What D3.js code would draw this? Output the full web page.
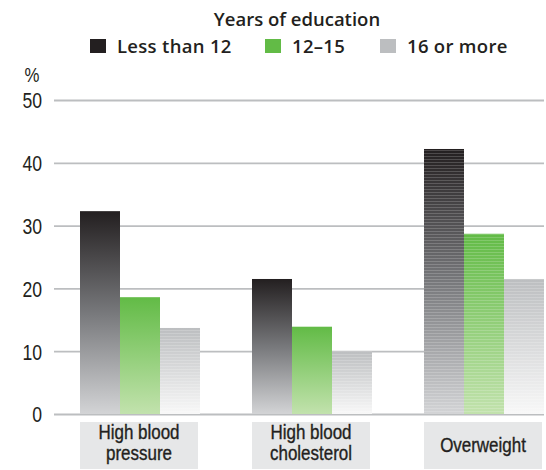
<!DOCTYPE html>
<html>
<head>
<meta charset="utf-8">
<script src="https://cdn.jsdelivr.net/npm/d3@7"></script>
<style>
  html, body { margin: 0; padding: 0; background: #fff; }
  svg { display: block; }
</style>
</head>
<body>
<svg id="chart" width="546" height="470"></svg>
<script>
// Share of adults with each risk factor, by years of education
const categories = [["High blood", "pressure"], ["High blood", "cholesterol"], ["Overweight"]];
const seriesNames = ["Less than 12", "12\u201315", "16 or more"];
const lessThan12 = [32.3, 21.5, 42.2];
const years12to15 = [18.6, 13.9, 28.7];
const sixteenPlus = [13.7, 10.0, 21.5];
const yTicks = [0, 10, 20, 30, 40, 50];

const series = [lessThan12, years12to15, sixteenPlus];
const swatch = ["#231f20", "#62bb46", "#bcbec0"];
const gradStops = [
  [["0%", "#231f20"], ["50%", "#77787b"], ["100%", "#d3d4d6"]],
  [["0%", "#62bb46"], ["100%", "#c2e2ad"]],
  [["0%", "#bcbec0"], ["100%", "#f8f8f8"]]
];

const svg = d3.select("#chart");
const plotLeft = 54, plotRight = 544;
const labelFont = "'Liberation Sans', Arial, sans-serif";
const legendFont = "'Open Sans', 'Liberation Sans', sans-serif";
const ink = "#231f20";
const narrow = 0.8;      // horizontal squeeze for the condensed labels

const defs = svg.append("defs");
gradStops.forEach((stops, i) => {
  const g = defs.append("linearGradient")
    .attr("id", "grad" + i)
    .attr("x1", 0).attr("y1", 0).attr("x2", 0).attr("y2", 1);
  stops.forEach(s => g.append("stop").attr("offset", s[0]).attr("stop-color", s[1]));
});
// fine horizontal banding over the bars
const pat = defs.append("pattern")
  .attr("id", "bands").attr("patternUnits", "userSpaceOnUse")
  .attr("width", 4).attr("height", 3);
pat.append("rect").attr("width", 4).attr("height", 1).attr("fill", "#fff").attr("opacity", 0.18);

const y = d3.scaleLinear().domain([0, 50]).range([414, 100]);
const x0 = d3.scaleBand()
  .domain(d3.range(categories.length))
  .range([80, 544])
  .paddingInner(52 / 172)
  .paddingOuter(0);
const x1 = d3.scaleBand()
  .domain(d3.range(series.length))
  .range([0, x0.bandwidth()]);

// gridlines and tick labels
const yAxis = d3.axisLeft(y).tickValues(yTicks).tickSize(-(plotRight - plotLeft)).tickPadding(15);
const ax = svg.append("g").attr("transform", `translate(${plotLeft},0)`).call(yAxis);
ax.select(".domain").remove();
ax.selectAll(".tick line").attr("stroke", "#bcbec0").attr("stroke-width", 1.8);
ax.selectAll(".tick text")
  .attr("fill", ink)
  .attr("transform", `scale(${narrow},1)`)
  .style("font-family", labelFont)
  .style("font-size", "22px")
  .attr("dy", "0.36em");

svg.append("g")
  .attr("transform", `translate(32,82) scale(${narrow},1)`)
  .append("text")
  .attr("text-anchor", "middle")
  .attr("fill", ink)
  .style("font-family", labelFont)
  .style("font-size", "21px")
  .text("%");

// bars
const groups = svg.append("g").selectAll("g")
  .data(categories)
  .join("g")
  .attr("transform", (d, i) => `translate(${x0(i)},0)`);

groups.each(function(cat, ci) {
  const g = d3.select(this);
  series.forEach((vals, si) => {
    const v = vals[ci];
    g.append("rect")
      .attr("x", x1(si))
      .attr("y", y(v))
      .attr("width", x1.bandwidth())
      .attr("height", y(0) - y(v))
      .attr("fill", `url(#grad${si})`);
    if (si === 2 || ci === 2) {
      g.append("rect")
        .attr("x", x1(si))
        .attr("y", y(v))
        .attr("width", x1.bandwidth())
        .attr("height", y(0) - y(v))
        .attr("fill", "url(#bands)");
    }
  });

  // category label box
  const boxW = x0.bandwidth() - 2;
  g.append("rect")
    .attr("x", 0).attr("y", 422)
    .attr("width", boxW).attr("height", 47)
    .attr("fill", "#e6e7e8");
  const t = g.append("g")
    .attr("transform", `translate(${boxW / 2},0) scale(0.87,1)`)
    .append("text")
    .attr("text-anchor", "middle")
    .attr("fill", ink)
    .attr("stroke", ink)
    .attr("stroke-width", 0.35)
    .style("font-family", labelFont)
    .style("font-size", "19.5px");
  if (cat.length === 1) {
    t.append("tspan").attr("x", 0).attr("y", 452).text(cat[0]);
  } else {
    t.append("tspan").attr("x", 0).attr("y", 439).text(cat[0]);
    t.append("tspan").attr("x", 0).attr("y", 460).text(cat[1]);
  }
});

// legend
svg.append("text")
  .attr("x", 297).attr("y", 26)
  .attr("text-anchor", "middle")
  .attr("fill", ink)
  .style("font-family", legendFont)
  .style("font-weight", 600)
  .style("font-size", "18.5px")
  .text("Years of education");

const legendX = [90, 265, 380];
const leg = svg.append("g").selectAll("g")
  .data(seriesNames)
  .join("g")
  .attr("transform", (d, i) => `translate(${legendX[i]},0)`);
leg.append("rect")
  .attr("x", 0).attr("y", 39)
  .attr("width", 16).attr("height", 14)
  .attr("fill", (d, i) => swatch[i]);
leg.append("text")
  .attr("x", 27).attr("y", 52.5)
  .attr("fill", ink)
  .style("font-family", legendFont)
  .style("font-weight", 600)
  .style("font-size", "18.5px")
  .style("letter-spacing", "0.3px")
  .text(d => d);
</script>
</body>
</html>
